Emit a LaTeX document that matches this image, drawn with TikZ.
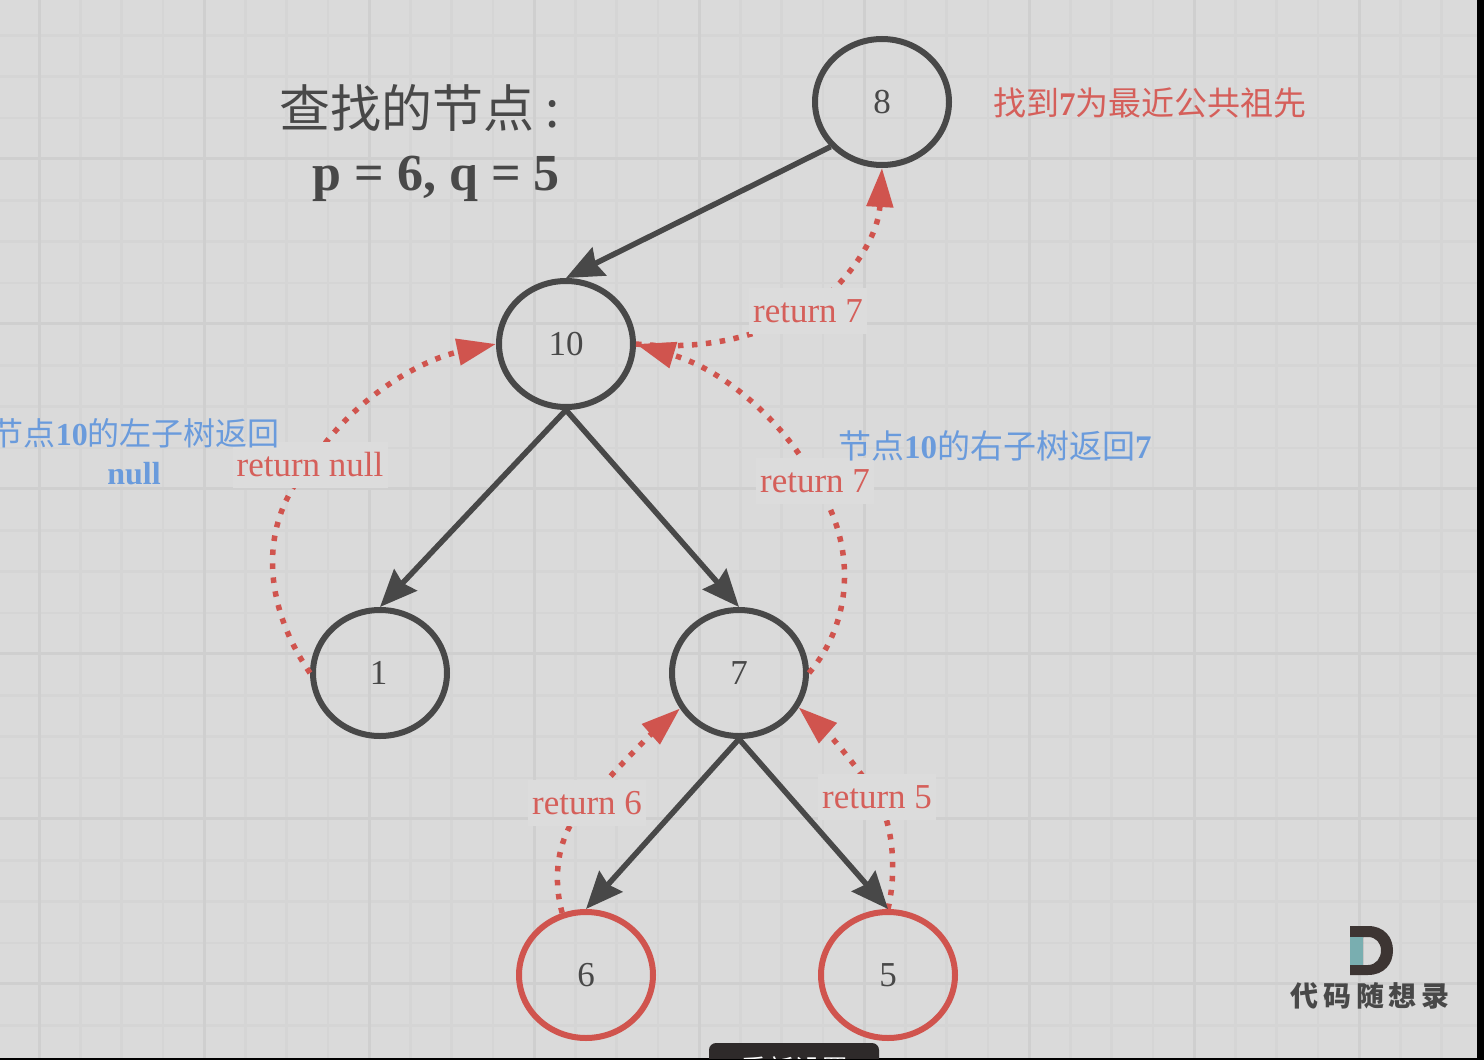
\documentclass[tikz,border=0pt]{standalone}
\usepackage{fontspec}
\setmainfont{Liberation Serif}
\newfontfamily\cjk{Noto Sans CJK SC}
\usetikzlibrary{arrows.meta,shapes.geometric}
\definecolor{bgc}{HTML}{DADADA}
\definecolor{gridmin}{HTML}{D5D5D5}
\definecolor{gridmaj}{HTML}{CFCFCF}
\definecolor{ink}{HTML}{484848}
\definecolor{redc}{HTML}{D0544E}
\definecolor{redt}{HTML}{D55F5A}
\definecolor{bluet}{HTML}{6A9BDC}
\definecolor{labbg}{HTML}{DCDCDC}
\definecolor{logod}{HTML}{3D3533}
\definecolor{logot}{HTML}{79AEB0}
\definecolor{tipc}{HTML}{2E2A2A}
\tikzset{
  x=1pt,y=-1pt,
  treenode/.style={ellipse,draw=ink,line width=6pt,minimum width=134pt,minimum height=126pt,inner sep=0pt,text=ink,font=\fontsize{35}{35}\selectfont},
  rednode/.style={treenode,draw=redc},
  edgeline/.style={draw=ink,line width=5.5pt,-{Stealth[length=37pt,width=31pt,inset=4pt]}},
  retline/.style={draw=redc,line width=5.5pt,dash pattern=on 5.5pt off 8.5pt},
  rethead/.style={retline,-{Triangle[length=39pt,width=26pt,fill=redc,sep=0pt]}},
  retlabel/.style={fill=labbg,text=redt,font=\fontsize{35}{35}\selectfont,minimum width=118pt,minimum height=46pt,inner sep=0pt},
  redtext/.style={text=redt,font=\fontsize{33}{33}\bfseries\selectfont,inner sep=0pt},
  bluetext/.style={text=bluet,font=\fontsize{32}{32}\bfseries\selectfont,inner sep=0pt},
}
\begin{document}
\begin{tikzpicture}
\useasboundingbox (0,0) rectangle (1484,1060);
\fill[bgc] (0,0) rectangle (1484,1060);
% grid
\foreach \i in {0,...,35}{\draw[gridmin,line width=2.5pt] ({39+41.25*(\i-1)},0) -- ({39+41.25*(\i-1)},1060);}
\foreach \i in {0,...,26}{\draw[gridmin,line width=2.5pt] (0,{-6+41.25*\i}) -- (1484,{-6+41.25*\i});}
\foreach \i in {0,...,8}{\draw[gridmaj,line width=3pt] ({39+165*\i},0) -- ({39+165*\i},1060);}
\foreach \i in {0,...,5}{\draw[gridmaj,line width=3pt] (0,{158+165*\i}) -- (1484,{158+165*\i});}
% nodes
\node[treenode] (n8) at (882,102) {8};
\node[treenode] (n10) at (566,344) {10};
\node[treenode] (n1) at (380,673) {\hspace*{-3pt}1};
\node[treenode] (n7) at (739,673) {7};
\node[rednode] (n6) at (586,975) {6};
\node[rednode] (n5) at (888,975) {5};
% labels (placed first as coordinates for connectors)
\coordinate (cnull) at (310,465);
\coordinate (c7a) at (808,311);
\coordinate (c7b) at (815,481);
\coordinate (c6) at (587,803);
\coordinate (c5) at (877,797);
% return connectors
\draw[rethead] (n1.west) .. controls (260,600) and (260,520) .. (cnull) .. controls (350,400) and (420,360) .. (n10.west);
\draw[rethead] (n7.east) .. controls (850,625) and (860,550) .. (c7b) .. controls (790,430) and (730,372) .. (n10.east);
\draw[retline] (n10.east) .. controls (700,350) and (750,340) .. (c7a);
\draw[rethead] (c7a) .. controls (845,285) and (878,240) .. (n8.south);
\draw[rethead] (n6.111) .. controls (553,880) and (555,835) .. (c6) .. controls (610,775) and (650,735) .. (n7.211);
\draw[rethead] (n5.north) .. controls (897,870) and (893,825) .. (c5) .. controls (860,770) and (830,735) .. (n7.330);
% tree edges
\draw[edgeline] (n8.221) -- (n10.north);
\draw[edgeline] (n10.south) -- (n1.north);
\draw[edgeline] (n10.south) -- (n7.north);
\draw[edgeline] (n7.south) -- (n6.north);
\draw[edgeline] (n7.south) -- (n5.north);
% return labels
\node[retlabel] (lnull) at (cnull) [minimum width=155pt] {return null};
\node[retlabel] (l7a) at (c7a) {return 7};
\node[retlabel] (l7b) at (c7b) {return 7};
\node[retlabel] (l6) at (c6) {return 6};
\node[retlabel] (l5) at (c5) {return 5};
% texts
\node[anchor=east,text=ink,inner sep=0pt,font=\fontsize{51}{51}\selectfont\cjk] (title) at (560,108) {查找的节点 :};
\node[anchor=base east,text=ink,inner sep=0pt,font=\fontsize{52}{52}\bfseries\selectfont] (pq) at (560,190) {p = 6, q = 5};
\node[anchor=west,redtext] (found) at (993,103) {{\mdseries\cjk 找到}7{\mdseries\cjk 为最近公共祖先}};
\node[anchor=east,bluetext] (leftnote) at (280,433) {{\mdseries\cjk 节点}10{\mdseries\cjk 的左子树返回}};
\node[bluetext] (nullnote) at (134,474) {null};
\node[anchor=west,bluetext,font=\fontsize{33}{33}\bfseries\selectfont] (rightnote) at (838,446) {{\mdseries\cjk 节点}10{\mdseries\cjk 的右子树返回}7};
% logo
\fill[logod,even odd rule] (1350,926) -- (1368,926) .. controls (1384,926) and (1393,937) .. (1393,950.5) .. controls (1393,964) and (1384,975) .. (1368,975) -- (1350,975) -- cycle
  (1363,937) -- (1363,965) -- (1368,965) .. controls (1376,965) and (1381,958) .. (1381,950.5) .. controls (1381,943) and (1376,937) .. (1368,937) -- cycle;
\fill[logot] (1350,937) rectangle (1363,965);
\node[text=ink,inner sep=0pt,font=\fontsize{28}{28}\selectfont\cjk\bfseries] (logotext) at (1370,996) {代\,码\,随\,想\,录};
% window edge
\fill[black] (1477,0) rectangle (1484,1060);
\fill[black] (0,1058) rectangle (1484,1060);
\begin{scope}
\clip (0,0) rectangle (1484,1058);
\fill[tipc,rounded corners=7pt] (709,1043) rectangle (879,1080);
\node[text=white,inner sep=0pt,font=\fontsize{27}{27}\selectfont\cjk] (tiptext) at (794,1069) {重新设置};
\end{scope}
\end{tikzpicture}
\end{document}
